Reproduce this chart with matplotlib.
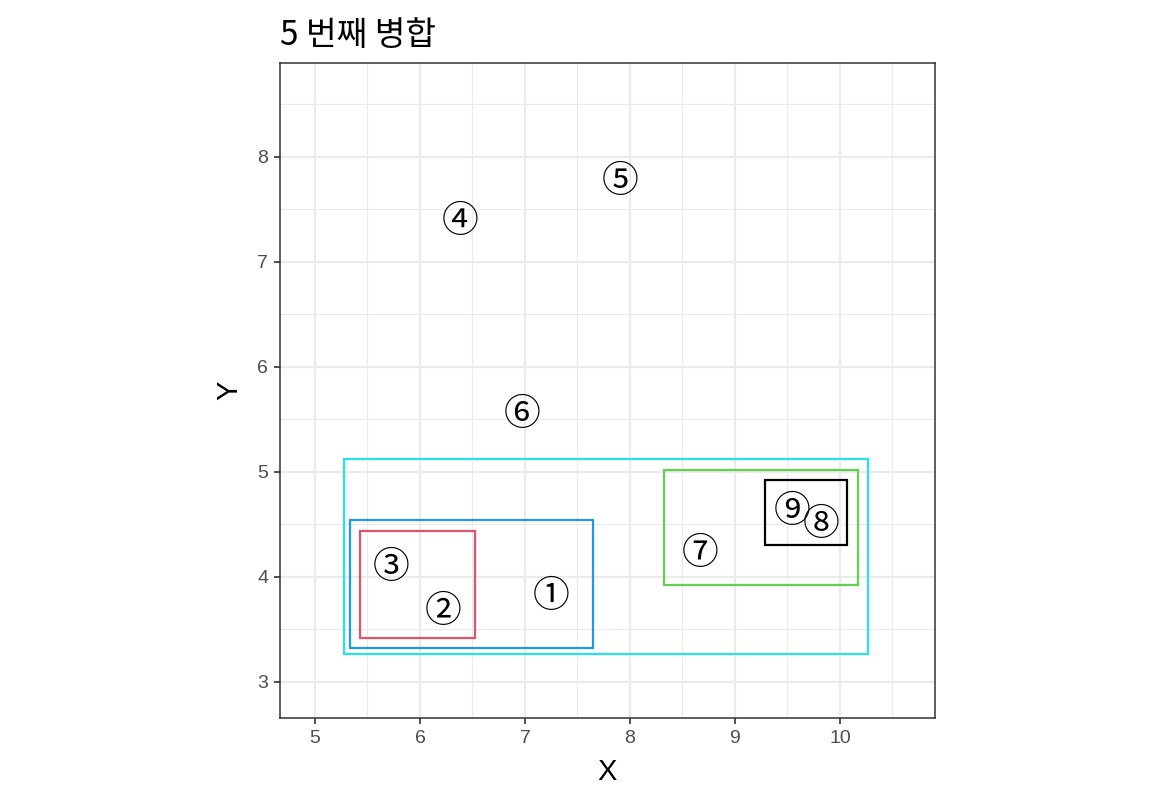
import matplotlib
matplotlib.use("Agg")
import matplotlib.pyplot as plt
from matplotlib.patches import Rectangle
from matplotlib.ticker import MultipleLocator
from matplotlib.transforms import offset_copy

plt.rcParams['font.family'] = ['Liberation Sans', 'Noto Sans CJK KR', 'DejaVu Sans']

# points (label, x, y)
labels = ['①', '②', '③', '④', '⑤', '⑥', '⑦', '⑧', '⑨']
xs = [7.25, 6.22, 5.73, 6.38, 7.91, 6.97, 8.67, 9.82, 9.54]
ys = [3.86, 3.72, 4.14, 7.43, 7.81, 5.59, 4.27, 4.55, 4.67]

# merge steps: members (indices into points), box padding, colour
merge_members = [[7, 8], [1, 2], [6, 7, 8], [0, 1, 2], [0, 1, 2, 6, 7, 8]]
merge_pads = [0.25, 0.30, 0.35, 0.40, 0.45]
merge_colors = ['#000000', '#DF536B', '#61D04F', '#2297E6', '#28E2E5']

title = '5 번째 병합'

fig = plt.figure(figsize=(11.52, 8.06), dpi=100)
ax = fig.add_axes([280 / 1152, 1 - 718 / 806, 655 / 1152, 655 / 806])

for members, pad, col in zip(merge_members, merge_pads, merge_colors):
    mx = [xs[i] for i in members]
    my = [ys[i] for i in members]
    x0, x1 = min(mx) - pad, max(mx) + pad
    y0, y1 = min(my) - pad, max(my) + pad
    ax.add_patch(Rectangle((x0, y0), x1 - x0, y1 - y0, fill=False,
                           edgecolor=col, linewidth=1.6, zorder=3))

# glyphs sit a bit high in the CJK font, nudge them down
lab_trans = offset_copy(ax.transData, fig=fig, x=0, y=-3.5, units='points')
for lab, x, y in zip(labels, xs, ys):
    ax.text(x, y, lab, ha='center', va='center', fontsize=26.5,
            family=['Noto Sans CJK KR', 'DejaVu Sans'], color='black',
            zorder=4, transform=lab_trans)

ax.set_xlim(4.667, 10.905)
ax.set_ylim(2.657, 8.895)
ax.set_aspect('equal', adjustable='box')

ax.xaxis.set_major_locator(MultipleLocator(1))
ax.yaxis.set_major_locator(MultipleLocator(1))
ax.xaxis.set_minor_locator(MultipleLocator(0.5))
ax.yaxis.set_minor_locator(MultipleLocator(0.5))
ax.grid(which='major', color='#EBEBEB', linewidth=1.6)
ax.grid(which='minor', color='#EBEBEB', linewidth=0.8)
ax.set_axisbelow(True)
ax.tick_params(which='minor', length=0)
ax.tick_params(which='major', length=4.5, width=1.2, color='#333333',
               labelcolor='#4D4D4D', labelsize=14, pad=4)
for s in ax.spines.values():
    s.set_color('#333333')
    s.set_linewidth(1.1)

ax.set_xlabel('X', fontsize=21, labelpad=8)
ax.set_ylabel('Y', fontsize=21, labelpad=10)
ax.set_title(title, loc='left', fontsize=24, pad=13,
             family=['Noto Sans CJK KR', 'DejaVu Sans'])

fig.savefig('out.png', dpi=100)
